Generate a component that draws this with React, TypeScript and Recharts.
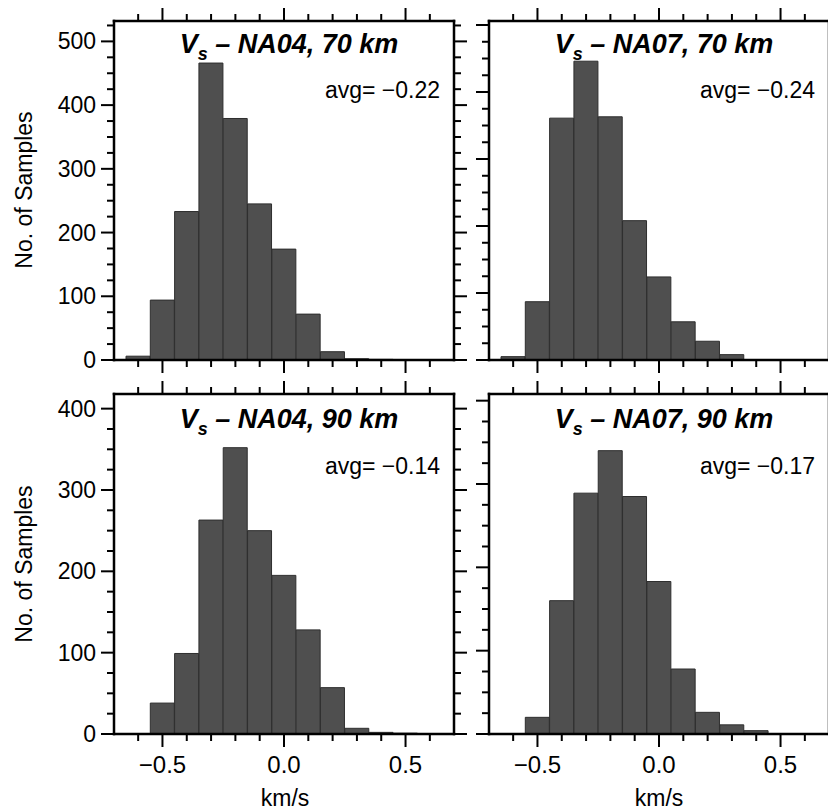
import React from "react";
import { BarChart, Bar, XAxis, YAxis } from "recharts";

// Histogram bin centres (km/s), bin width 0.1
const bins = [-0.6, -0.5, -0.4, -0.3, -0.2, -0.1, 0.0, 0.1, 0.2, 0.3, 0.4, 0.5, 0.6];

// Sample counts per bin
const na04_70 = [6, 94, 233, 466, 379, 245, 174, 72, 13, 2, 1, 0, 0];
const na07_70 = [5, 87, 361, 446, 363, 208, 124, 57, 28, 8, 0, 0, 0];
const na04_90 = [0, 38, 99, 263, 352, 250, 195, 128, 57, 7, 2, 1, 0];
const na07_90 = [0, 20, 160, 289, 340, 285, 183, 78, 26, 11, 4, 0, 0];

// Y tick values (major every 100, minor every 25)
const yTicks70a = [0, 25, 50, 75, 100, 125, 150, 175, 200, 225, 250, 275, 300, 325, 350, 375, 400, 425, 450, 475, 500, 525];
const yTicks70b = [0, 25, 50, 75, 100, 125, 150, 175, 200, 225, 250, 275, 300, 325, 350, 375, 400, 425, 450, 475, 500];
const yTicks90 = [0, 25, 50, 75, 100, 125, 150, 175, 200, 225, 250, 275, 300, 325, 350, 375, 400];

const titles = ["NA04, 70 km", "NA07, 70 km", "NA04, 90 km", "NA07, 90 km"];
const averages = ["avg= \u22120.22", "avg= \u22120.24", "avg= \u22120.14", "avg= \u22120.17"];

const FONT = "'Liberation Sans', Arial, Helvetica, sans-serif";

const toData = (counts: number[]) => bins.map((b, i) => ({ bin: b, count: counts[i] }));

const fmtX = (v: number) => (v < 0 ? "\u2212" : "") + Math.abs(v).toFixed(1);

const XTick = (props: any) => {
  const { x, y, payload, side, showLabel } = props;
  const v = Number(payload.value);
  const major = Math.abs(Math.round(v * 10)) % 5 === 0;
  const len = major ? 13 : 7;
  const dir = side === "top" ? -1 : 1;
  return (
    <g>
      <line x1={x} x2={x} y1={y} y2={y + dir * len} stroke="#000" strokeWidth={2} />
      {showLabel && major && side !== "top" ? (
        <text x={x} y={y + 39} textAnchor="middle" fontSize={24} fontFamily={FONT} fill="#000">
          {fmtX(v)}
        </text>
      ) : null}
    </g>
  );
};

const YTick = (props: any) => {
  const { x, y, payload, side, showLabel } = props;
  const v = Number(payload.value);
  const major = v % 100 === 0;
  const len = major ? 13 : 7;
  const dir = side === "right" ? 1 : -1;
  return (
    <g>
      <line x1={x} x2={x + dir * len} y1={y} y2={y} stroke="#000" strokeWidth={2} />
      {showLabel && major && side !== "right" ? (
        <text x={x - 18} y={y + 8} textAnchor="end" fontSize={23} fontFamily={FONT} fill="#000">
          {v}
        </text>
      ) : null}
    </g>
  );
};

const frameLine = { stroke: "#000", strokeWidth: 2.5, strokeLinecap: "square" as const };

function Panel(props: {
  plotLeft: number;
  plotTop: number;
  plotH: number;
  counts: number[];
  yMax: number;
  yTicks: number[];
  showYLabels: boolean;
  showXLabels: boolean;
}) {
  const { plotLeft, plotTop, plotH, counts, yMax, yTicks, showYLabels, showXLabels } = props;
  const padL = 70;
  const padR = 25;
  const padT = 20;
  const padB = showXLabels ? 50 : 25;
  const plotW = 340;
  const width = padL + plotW + padR;
  const height = padT + plotH + padB;
  const data = toData(counts);
  return (
    <div style={{ position: "absolute", left: plotLeft - padL, top: plotTop - padT, width, height }}>
      <BarChart
        width={width}
        height={height}
        data={data}
        margin={{ top: 0, right: 0, bottom: 0, left: 0 }}
        barCategoryGap={0}
        barGap={0}
      >
        <XAxis
          xAxisId="b"
          dataKey="bin"
          type="category"
          orientation="bottom"
          height={padB}
          padding={{ left: 12, right: 12 }}
          interval={0}
          tickSize={0}
          tickMargin={0}
          axisLine={frameLine}
          tickLine={false}
          tick={(p: any) => <XTick {...p} side="bottom" showLabel={showXLabels} />}
        />
        <XAxis
          xAxisId="t"
          dataKey="bin"
          type="category"
          orientation="top"
          height={padT}
          padding={{ left: 12, right: 12 }}
          interval={0}
          tickSize={0}
          tickMargin={0}
          axisLine={frameLine}
          tickLine={false}
          tick={(p: any) => <XTick {...p} side="top" showLabel={false} />}
        />
        <YAxis
          yAxisId="l"
          orientation="left"
          type="number"
          width={padL}
          domain={[0, yMax]}
          allowDataOverflow
          ticks={yTicks}
          interval={0}
          tickSize={0}
          tickMargin={0}
          axisLine={frameLine}
          tickLine={false}
          tick={(p: any) => <YTick {...p} side="left" showLabel={showYLabels} />}
        />
        <YAxis
          yAxisId="r"
          orientation="right"
          type="number"
          width={padR}
          domain={[0, yMax]}
          allowDataOverflow
          ticks={yTicks}
          interval={0}
          tickSize={0}
          tickMargin={0}
          axisLine={frameLine}
          tickLine={false}
          tick={(p: any) => <YTick {...p} side="right" showLabel={false} />}
        />
        <Bar
          xAxisId="b"
          yAxisId="l"
          dataKey="count"
          fill="#4f4f4f"
          stroke="#2e2e2e"
          strokeWidth={1}
          isAnimationActive={false}
        />
      </BarChart>
    </div>
  );
}

const Title = ({ cx, baseline, text }: { cx: number; baseline: number; text: string }) => (
  <div
    style={{
      position: "absolute",
      left: cx,
      top: baseline - 0.8465 * 27,
      transform: "translateX(-50%)",
      fontFamily: FONT,
      fontSize: 27,
      lineHeight: "27px",
      fontWeight: "bold",
      fontStyle: "italic",
      whiteSpace: "nowrap",
      color: "#000",
    }}
  >
    V<span style={{ fontSize: 18, position: "relative", top: 7 }}>s</span> {"\u2013"} {text}
  </div>
);

const Avg = ({ right, baseline, text }: { right: number; baseline: number; text: string }) => (
  <div
    style={{
      position: "absolute",
      left: right,
      top: baseline - 0.8465 * 23,
      transform: "translateX(-100%)",
      fontFamily: FONT,
      fontSize: 23,
      lineHeight: "23px",
      whiteSpace: "nowrap",
      color: "#000",
    }}
  >
    {text}
  </div>
);

const Plain = ({ cx, baseline, text, rotate }: { cx: number; baseline: number; text: string; rotate?: boolean }) =>
  rotate ? (
    <div
      style={{
        position: "absolute",
        left: cx,
        top: baseline,
        transform: "translate(-50%, -50%) rotate(-90deg)",
        fontFamily: FONT,
        fontSize: 23,
        lineHeight: "23px",
        whiteSpace: "nowrap",
        color: "#000",
      }}
    >
      {text}
    </div>
  ) : (
    <div
      style={{
        position: "absolute",
        left: cx,
        top: baseline - 0.8465 * 23,
        transform: "translateX(-50%)",
        fontFamily: FONT,
        fontSize: 23,
        lineHeight: "23px",
        whiteSpace: "nowrap",
        color: "#000",
      }}
    >
      {text}
    </div>
  );

export default function App() {
  return (
    <div
      style={{
        position: "absolute",
        left: 0,
        top: 0,
        width: 828,
        height: 810,
        overflow: "hidden",
        background: "#fff",
      }}
    >
      <Panel plotLeft={114} plotTop={21} plotH={339} counts={na04_70} yMax={532} yTicks={yTicks70a} showYLabels showXLabels={false} />
      <Panel plotLeft={489} plotTop={21} plotH={339} counts={na07_70} yMax={506} yTicks={yTicks70b} showYLabels={false} showXLabels={false} />
      <Panel plotLeft={114} plotTop={394} plotH={340} counts={na04_90} yMax={418} yTicks={yTicks90} showYLabels showXLabels />
      <Panel plotLeft={489} plotTop={394} plotH={340} counts={na07_90} yMax={408} yTicks={yTicks90} showYLabels={false} showXLabels />

      <Title cx={289} baseline={53.5} text={titles[0]} />
      <Title cx={664} baseline={53.5} text={titles[1]} />
      <Title cx={289} baseline={429} text={titles[2]} />
      <Title cx={664} baseline={429} text={titles[3]} />

      <Avg right={440} baseline={98.5} text={averages[0]} />
      <Avg right={815} baseline={98.5} text={averages[1]} />
      <Avg right={440} baseline={474} text={averages[2]} />
      <Avg right={815} baseline={474} text={averages[3]} />

      <Plain cx={24} baseline={190} text="No. of Samples" rotate />
      <Plain cx={24} baseline={564} text="No. of Samples" rotate />
      <Plain cx={285} baseline={806} text="km/s" />
      <Plain cx={659} baseline={806} text="km/s" />
    </div>
  );
}
